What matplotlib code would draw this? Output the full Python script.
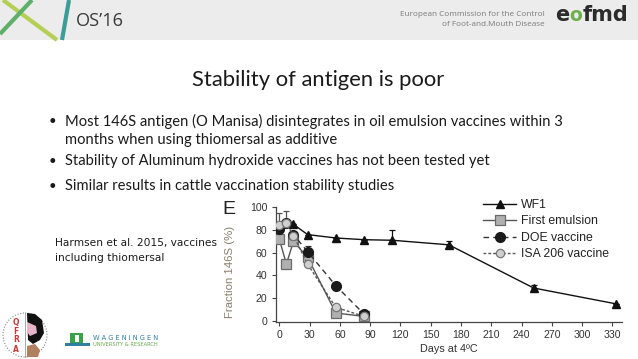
import matplotlib
matplotlib.use('Agg')
import matplotlib.pyplot as plt
from matplotlib.patches import Rectangle, Circle, Polygon

# ---------------- data ----------------
days_wf1 = [0, 7, 14, 28, 56, 84, 112, 168, 252, 334]
wf1 = [83, 87, 85, 76, 73, 71.5, 71, 67, 29, 15]
wf1_err = [0, 0, 0, 0, 0, 0, 9, 3, 3, 0]
days_vac = [0, 7, 14, 28, 56, 84]
first_emulsion = [72, 50, 70, 56, 7, 4]
doe = [81, 86, 76, 61, 31, 6]
doe_err = [0, 0, 0, 5, 0, 0]
isa206 = [84, 86, 75, 50, 12, 4]
isa_err = [11, 11, 0, 0, 0, 0]
xticks = list(range(0, 331, 30))
yticks = [0, 20, 40, 60, 80, 100]
series_labels = ['WF1', 'First emulsion', 'DOE vaccine', 'ISA 206 vaccine']

title = 'Stability of antigen is poor'
bullets = [
    ('•', 'Most 146S antigen (O Manisa) disintegrates in oil emulsion vaccines within 3'),
    ('', 'months when using thiomersal as additive'),
    ('•', 'Stability of Aluminum hydroxide vaccines has not been tested yet'),
    ('•', 'Similar results in cattle vaccination stability studies'),
]
note_lines = ['Harmsen et al. 2015, vaccines', 'including thiomersal']

W, H = 638, 359
fig = plt.figure(figsize=(W / 100, H / 100), dpi=100)
fig.patch.set_facecolor('white')
renderer = fig.canvas.get_renderer()

# background pixel-space axes for slide decoration
bg = fig.add_axes([0, 0, 1, 1], zorder=0)
bg.set_xlim(0, W)
bg.set_ylim(H, 0)
bg.axis('off')


def fit_text(x, y, s, width, size0=10, **kw):
    t = bg.text(x, y, s, fontsize=size0, **kw)
    w = t.get_window_extent(renderer).width
    t.set_fontsize(size0 * width / w)
    return t


def px_width(t):
    return t.get_window_extent(renderer).width


# header band
bg.add_patch(Rectangle((0, 0), W, 40, facecolor='#ececec', edgecolor='none'))
bg.plot([3, 57], [0, 40], color='#b5cf55', lw=3, solid_capstyle='butt')
bg.plot([32, 0], [0, 34], color='#5faf6a', lw=3, solid_capstyle='butt')
bg.plot([69, 62], [0, 40], color='#3b9c98', lw=3, solid_capstyle='butt')
fit_text(76, 21, "OS’16", 48, family='Open Sans', color='#3a3a3a', va='center', ha='left')
th = fit_text(545, 15, 'European Commission for the Control', 143, family='Open Sans',
              color='#7a7a7a', va='center', ha='right')
bg.text(545, 25, 'of Foot-and.Mouth Disease', fontsize=th.get_fontsize(),
        family='Open Sans', color='#7a7a7a', va='center', ha='right')

# eofmd logo, pieces laid out side by side
logo_size = 15
x0 = 555
te = bg.text(x0, 15, 'e', fontsize=logo_size, family='DejaVu Sans', weight='bold',
             color='#2b2b2b', va='center', ha='left')
x1 = x0 + px_width(te) + 0.5
to = bg.text(x1, 15.5, 'o', fontsize=logo_size * 0.9, family='DejaVu Sans', weight='bold',
             color='#6bb04a', va='center', ha='left')
x2 = x1 + px_width(to) + 0.5
bg.text(x2, 15, 'fmd', fontsize=logo_size, family='DejaVu Sans', weight='bold',
        color='#2b2b2b', va='center', ha='left')

# title and bullets
fit_text(318, 80, title, 254, family='Lato', color='#1a1a1a', va='center', ha='center')
t1 = fit_text(65, 121, bullets[0][1], 494, family='Lato', color='#1a1a1a', va='center', ha='left')
bsize = t1.get_fontsize()
for (b, s), y in zip(bullets[1:], [140, 161, 186]):
    bg.text(65, y, s, fontsize=bsize, family='Lato', color='#1a1a1a', va='center', ha='left')
for (b, s), y in zip(bullets, [121, 140, 161, 186]):
    if b:
        bg.text(49, y, b, fontsize=bsize * 0.9, family='Lato', color='#1a1a1a', va='center', ha='left')

tn = fit_text(55, 243, note_lines[0], 162, family='DejaVu Sans', color='#1a1a1a', va='center', ha='left')
bg.text(55, 258, note_lines[1], fontsize=tn.get_fontsize(), family='DejaVu Sans',
        color='#1a1a1a', va='center', ha='left')

# bottom-left logos
bg.add_patch(Circle((25, 335), 22, facecolor='none', edgecolor='#888888', lw=0.8, ls=(0, (1, 1.5))))
bg.plot([25, 25], [313, 357], color='#999999', lw=0.6)
bg.add_patch(Polygon([[27, 313], [35, 314], [42, 320], [44, 333], [40, 340], [33, 344], [28, 340]],
                     closed=True, facecolor='#111111', edgecolor='none'))
bg.add_patch(Polygon([[27, 322], [36, 326], [37, 333], [30, 336], [27, 332]],
                     closed=True, facecolor='#e8b6c8', edgecolor='none'))
bg.add_patch(Polygon([[27, 346], [35, 344], [40, 350], [38, 357], [27, 357]],
                     closed=True, facecolor='#b08060', edgecolor='none'))
for ch, yy in zip('QFRA', [322, 331, 340, 349]):
    bg.text(16, yy, ch, fontsize=5.5, weight='bold', color='#c83a3a', va='center', ha='center')
bg.add_patch(Rectangle((70, 333), 13, 10, facecolor='#3aa34a', edgecolor='none'))
bg.add_patch(Rectangle((74.5, 335), 4, 7, facecolor='white', edgecolor='none'))
bg.add_patch(Rectangle((65, 343), 25, 3, facecolor='#2f7fa0', edgecolor='none'))
fit_text(93, 338, 'W A G E N I N G E N', 66, family='DejaVu Sans', color='#2f7fa0', va='center', ha='left')
fit_text(93, 344.5, 'UNIVERSITY & RESEARCH', 65, family='DejaVu Sans', color='#6aa84f', va='center', ha='left')

# ---------------- chart ----------------
ax_left, ax_right = 275.7, 622.0
ax_top, ax_bot = 207.3, 322.1
ax = fig.add_axes([ax_left / W, 1 - ax_bot / H, (ax_right - ax_left) / W, (ax_bot - ax_top) / H], zorder=2)
ax.patch.set_alpha(0)
ax.set_xlim(-3.6, 339.6)
ax.set_ylim(-1, 100)

axis_col = '#444444'
for sp in ['top', 'right']:
    ax.spines[sp].set_visible(False)
for sp in ['left', 'bottom']:
    ax.spines[sp].set_color(axis_col)
    ax.spines[sp].set_linewidth(0.9)

zeros6 = [0] * 6
ax.errorbar(days_wf1, wf1, yerr=[[0] * len(wf1), wf1_err], fmt='none', ecolor='#111111',
            elinewidth=0.9, capsize=2.5, capthick=0.9, zorder=3)
ax.errorbar(days_vac, doe, yerr=[zeros6, doe_err], fmt='none', ecolor='#333333',
            elinewidth=0.9, capsize=2.5, capthick=0.9, zorder=3)
ax.errorbar(days_vac, isa206, yerr=[zeros6, isa_err], fmt='none', ecolor='#555555',
            elinewidth=0.9, capsize=2.5, capthick=0.9, zorder=3)

h1, = ax.plot(days_wf1, wf1, color='#111111', lw=1.0, marker='^', ms=6.3,
              mfc='#111111', mec='#111111', zorder=4, label=series_labels[0])
h2, = ax.plot(days_vac, first_emulsion, color='#555555', lw=1.0, marker='s', ms=6.5,
              mfc='#b0b0b0', mec='#6a6a6a', mew=0.9, zorder=5, label=series_labels[1])
h3, = ax.plot(days_vac, doe, color='#333333', lw=1.0, ls=(0, (4, 3)), marker='o', ms=7,
              mfc='#1a1a1a', mec='#1a1a1a', zorder=6, label=series_labels[2])
h4, = ax.plot(days_vac, isa206, color='#555555', lw=1.0, ls=(0, (2, 1.5)), marker='o', ms=6,
              mfc='#cfcfcf', mec='#777777', mew=0.9, zorder=7, label=series_labels[3])

ax.set_xticks(xticks)
ax.set_yticks(yticks)
ax.tick_params(direction='out', length=3, width=0.8, color=axis_col, labelsize=7.6,
               labelcolor='#333333')
ax.tick_params(axis='x', pad=3)
ax.tick_params(axis='y', pad=3.2)
for lab in ax.get_xticklabels() + ax.get_yticklabels():
    lab.set_family('Liberation Sans')

ax.set_xlabel('Days at 4ºC', fontsize=7.8, family='Liberation Sans', color='#333333', labelpad=2.5)
ax.set_ylabel('Fraction 146S (%)', fontsize=8.2, family='Liberation Sans', color='#8b7d6b', va='center')
ax.yaxis.set_label_coords((230 - ax_left) / (ax_right - ax_left), (ax_bot - 272) / (ax_bot - ax_top))

bg.text(229, 209, 'E', fontsize=14, family='Liberation Sans', color='#222222', va='center', ha='center')

leg = ax.legend(handles=[h1, h2, h3, h4], loc='upper left',
                bbox_to_anchor=(483 / W, 1 - 199 / H), bbox_transform=fig.transFigure,
                frameon=False, borderpad=0, borderaxespad=0, handlelength=2.7,
                handletextpad=0.4, labelspacing=0.36, numpoints=1,
                prop={'family': 'Liberation Sans', 'size': 8.8})
for t in leg.get_texts():
    t.set_color('#222222')

fig.savefig('out.png', dpi=100, facecolor='white')
